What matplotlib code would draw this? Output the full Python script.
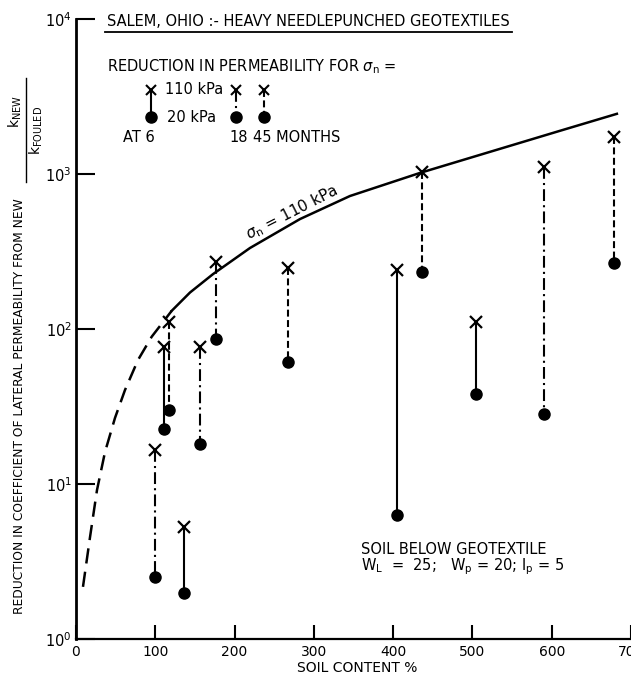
import matplotlib
matplotlib.use("Agg")
import matplotlib.pyplot as plt

plt.rcParams['font.family'] = ['DejaVu Sans']
plt.rcParams['mathtext.fontset'] = 'dejavusans'
plt.rcParams['lines.scale_dashes'] = False

# ---- data ----
soil_content = [100, 111, 117, 136, 156, 176, 268, 405, 436, 504, 590, 678]
k_110kpa = [16.6, 77, 111, 5.3, 77, 272, 246, 240, 1035, 111, 1114, 1740]
k_20kpa = [2.5, 22.6, 30, 1.97, 18.1, 86, 61, 6.3, 232, 37.9, 28.2, 268]
months = [18, 6, 45, 6, 18, 18, 45, 6, 45, 6, 18, 45]

curve_dash_x = [8.8, 17.7, 26.5, 36.6, 49.2, 61.8, 78.2, 95.5, 120.7]
curve_dash_y = [2.17, 4.55, 9.15, 16.1, 26.7, 40.4, 63.1, 89.2, 131]
curve_solid_x = [120.7, 143.8, 172.8, 219.4, 282.5, 345.5, 433.8, 522, 610, 682.2]
curve_solid_y = [131, 172, 226, 333, 512, 721, 1016, 1389, 1897, 2445]

x_ticks = [0, 100, 200, 300, 400, 500, 600, 700]
x_tick_labels = ['0', '100', '200', '300', '400', '500', '600', '700']
y_ticks = [1, 10, 100, 1000, 10000]
y_tick_labels = [r'$10^{0}$', r'$10^{1}$', r'$10^{2}$', r'$10^{3}$', r'$10^{4}$']

styles = {6: '-', 18: (0, (8.5, 3, 1.5, 3)), 45: (0, (5, 2.5))}

W, H = 631, 674
fig = plt.figure(figsize=(W / 100, H / 100), dpi=100)
ax = fig.add_axes([76 / W, 1 - 639 / H, (631 - 76) / W, (639 - 19) / H])
ax.set_yscale('log')
ax.set_xlim(0, 700)
ax.set_ylim(1, 10000)

for s in ['top', 'right']:
    ax.spines[s].set_visible(False)
ax.spines['left'].set_linewidth(2.0)
ax.spines['bottom'].set_linewidth(1.6)

ax.set_xticks(x_ticks)
ax.set_xticklabels(x_tick_labels, fontsize=10)
ax.set_yticks(y_ticks)
ax.set_yticklabels(y_tick_labels, fontsize=10.5)
ax.yaxis.set_minor_locator(matplotlib.ticker.NullLocator())
ax.tick_params(axis='x', direction='in', length=10, width=1.5, pad=4)
ax.tick_params(axis='y', direction='in', length=13.5, width=1.5, pad=3)

# curve for sigma_n = 110 kPa
ax.plot(curve_dash_x, curve_dash_y, color='black', lw=1.8,
        linestyle=(0, (11, 6)), solid_capstyle='butt')
ax.plot(curve_solid_x, curve_solid_y, color='black', lw=1.8)

# data pairs: 110 kPa (x) joined to 20 kPa (dot)
for x, hi, lo, m in zip(soil_content, k_110kpa, k_20kpa, months):
    ax.plot([x, x], [hi, lo], color='black', lw=1.5, linestyle=styles[m])
    ax.plot([x], [lo], marker='o', ms=8, color='black', linestyle='none')
    ax.plot([x], [hi], marker='x', ms=9, mew=1.6, color='black', linestyle='none')

# curve label
ax.text(218, 375, r'$\sigma_{\rm n}$ = 110 kPa', fontsize=11, rotation=27,
        rotation_mode='anchor', ha='left', va='baseline')

# overlay in pixel coordinates for annotations
ov = fig.add_axes([0, 0, 1, 1], facecolor='none')
ov.set_xlim(0, W)
ov.set_ylim(H, 0)
ov.axis('off')

title = ov.text(107, 22, 'SALEM, OHIO :- HEAVY NEEDLEPUNCHED GEOTEXTILES',
                fontsize=10.5, ha='left', va='center')
ov.text(107, 67, r'REDUCTION IN PERMEABILITY FOR $\sigma_{\rm n}$ =',
        fontsize=10.5, ha='left', va='center')
ov.text(165, 90, '110 kPa', fontsize=10.5, ha='left', va='center')
ov.text(167, 117, '20 kPa', fontsize=10.5, ha='left', va='center')
ov.text(123, 137, 'AT 6', fontsize=10.5, ha='left', va='center')
ov.text(229, 137, '18', fontsize=10.5, ha='left', va='center')
ov.text(253, 137, '45 MONTHS', fontsize=10.5, ha='left', va='center')

for lx, m in [(151, 6), (236, 18), (264, 45)]:
    ov.plot([lx, lx], [90, 117], color='black', lw=1.5, linestyle=styles[m])
    ov.plot([lx], [117], marker='o', ms=8, color='black', linestyle='none')
    ov.plot([lx], [90], marker='x', ms=7, mew=1.5, color='black', linestyle='none')

ov.text(361, 550, 'SOIL BELOW GEOTEXTILE', fontsize=10.5, ha='left', va='center')
ov.text(361, 567, r'W$_{\rm L}$  =  25;   W$_{\rm p}$ = 20; I$_{\rm p}$ = 5',
        fontsize=10.5, ha='left', va='center')

ov.text(357, 668, 'SOIL CONTENT %', fontsize=10, ha='center', va='center')

ov.text(20, 406, 'REDUCTION IN COEFFICIENT OF LATERAL PERMEABILITY FROM NEW',
        fontsize=8.8, rotation=90, ha='center', va='center')
# k_NEW / k_FOULED fraction (rotated)
ov.text(15, 112, r'k$_{\rm NEW}$', fontsize=10, rotation=90, ha='center', va='center')
ov.plot([26, 26], [78, 182], color='black', lw=1.0)
ov.text(36, 130, r'k$_{\rm FOULED}$', fontsize=10, rotation=90, ha='center', va='center')

fig.canvas.draw()
bb = title.get_window_extent()
inv = ov.transData.inverted()
x0, _ = inv.transform((bb.x0, bb.y0))
x1, _ = inv.transform((bb.x1, bb.y0))
ov.plot([x0 - 2, x1 + 2], [32, 32], color='black', lw=1.3)

fig.savefig('out.png', dpi=100, facecolor='white')
